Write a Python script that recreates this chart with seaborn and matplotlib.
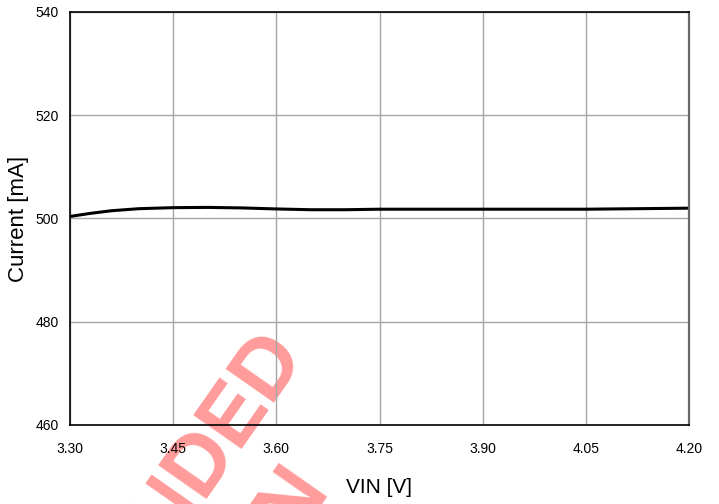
import matplotlib
matplotlib.use('Agg')
import matplotlib.pyplot as plt
import seaborn as sns
import pandas as pd

sns.set_style('white')
plt.rcParams['font.family'] = ['Liberation Sans', 'DejaVu Sans']
plt.rcParams['text.color'] = 'black'
plt.rcParams['axes.labelcolor'] = 'black'
plt.rcParams['xtick.color'] = 'black'
plt.rcParams['ytick.color'] = 'black'

# data
vin = [3.30, 3.33, 3.36, 3.40, 3.45, 3.50, 3.55, 3.60, 3.65, 3.70, 3.75, 3.90, 4.05, 4.20]
current = [500.4, 501.0, 501.5, 501.9, 502.1, 502.15, 502.05, 501.85, 501.7, 501.7, 501.8, 501.8, 501.8, 502.0]
xticks = [3.30, 3.45, 3.60, 3.75, 3.90, 4.05, 4.20]
yticks = [460, 480, 500, 520, 540]

df = pd.DataFrame({'VIN': vin, 'Current': current})

fig = plt.figure(figsize=(7.19, 5.04), dpi=100)
fig.patch.set_facecolor('white')
ax = fig.add_axes([70/719, 1-425/504, 619/719, 413/504])
ax.patch.set_alpha(0)

# watermark, behind the grid
wm = dict(fontsize=61, fontweight='bold', color='#ff9b9b', rotation=55,
          rotation_mode='anchor', ha='right', va='baseline', zorder=-5)
fig.text(307/719, 1-357/504, 'NOT RECOMMENDED', **wm)
fig.text(331/719, 1-492/504, 'FOR NEW DESIGN', **wm)

sns.lineplot(data=df, x='VIN', y='Current', ax=ax, color='black', linewidth=2.2)

ax.set_xlim(3.30, 4.20)
ax.set_ylim(460, 540)
ax.set_xticks(xticks)
ax.set_xticklabels([f'{t:.2f}' for t in xticks])
ax.set_yticks(yticks)
ax.grid(True, color='#a6a6a6', linewidth=1)
ax.tick_params(length=0, labelsize=10, pad=12)
ax.tick_params(axis='y', pad=8)
for s in ['left', 'top', 'bottom']:
    ax.spines[s].set_color('black')
    ax.spines[s].set_linewidth(1.2)
ax.spines['right'].set_color('#666666')
ax.spines['right'].set_linewidth(1.6)

ax.set_xlabel('VIN [V]', fontsize=15, labelpad=16)
ax.set_ylabel('Current [mA]', fontsize=16, labelpad=5)

fig.savefig('out.png', dpi=100)
